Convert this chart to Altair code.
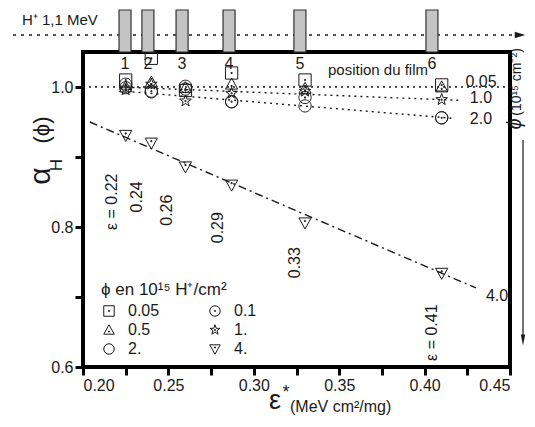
import altair as alt
import pandas as pd

FONT = "Liberation Sans"
INK = "#1a1a1a"

# ---------------- data ----------------
eps_star = [0.225, 0.24, 0.26, 0.287, 0.33, 0.41]
phi_levels = ["0.05", "0.1", "0.5", "1.", "2.", "4."]
alpha_005 = [1.010, 1.041, 0.995, 1.020, 1.010, 1.003]
alpha_01 = [1.004, 0.994, 0.997, 0.979, 0.985, 0.956]
alpha_05 = [1.000, 1.007, 0.999, 1.004, 0.998, 1.000]
alpha_1 = [0.996, 1.004, 0.980, 0.991, 0.994, 0.982]
alpha_2 = [0.999, 0.993, 1.001, 0.979, 0.973, 0.956]
alpha_4 = [0.931, 0.920, 0.886, 0.860, 0.806, 0.734]
series = [alpha_005, alpha_01, alpha_05, alpha_1, alpha_2, alpha_4]

# legend reading order (column by column, as in the reference)
legend_order = ["0.05", "0.5", "2.", "0.1", "1.", "4."]

film_labels = ["1", "2", "3", "4", "5", "6"]
film_x = [0.2246, 0.238, 0.258, 0.2855, 0.327, 0.4043]

fit_labels = ["0.05", "1.0", "2.0", "4.0"]
fit_x0 = [0.200, 0.222, 0.229, 0.204]
fit_x1 = [0.450, 0.420, 0.418, 0.430]
fit_y0 = [1.000, 1.000, 0.993, 0.950]
fit_y1 = [1.000, 0.981, 0.955, 0.713]
fit_label_x = [0.433, 0.433, 0.433, 0.4424]
fit_label_y = [1.007, 0.984, 0.954, 0.701]

eps_labels = ["ε = 0.22", "0.24", "0.26", "0.29", "0.33", "ε = 0.41"]
eps_label_x = [0.217, 0.2316, 0.2492, 0.279, 0.324, 0.4043]
eps_label_y = [0.836, 0.843, 0.824, 0.799, 0.749, 0.649]

x_ticks = [0.2, 0.225, 0.25, 0.275, 0.3, 0.325, 0.35, 0.375, 0.4, 0.425, 0.45]
y_ticks = [0.6, 0.7, 0.8, 0.9, 1.0]

beam_text = "H⁺ 1,1 MeV"
film_title = "position du film"
legend_title = "ϕ en 10¹⁵ H⁺/cm²"
right_phi = "ϕ"
right_unit = "(10¹⁵ cm⁻²)"
x_title_sym = "ε"
x_title_star = "*"
x_title_unit = "(MeV cm²/mg)"
y_title_sym = "α"
y_title_sub = "H"
y_title_arg = "(ϕ)"

# ---------------- tables ----------------
pts = pd.DataFrame(
    [
        {"eps": e, "alpha": v, "phi": lvl}
        for lvl, vals in zip(phi_levels, series)
        for e, v in zip(eps_star, vals)
    ]
)
fits = pd.DataFrame(
    [
        {"eps": x, "alpha": y, "fit": lab, "order": k}
        for lab, xa, xb, ya, yb in zip(fit_labels, fit_x0, fit_x1, fit_y0, fit_y1)
        for k, (x, y) in enumerate([(xa, ya), (xb, yb)])
    ]
)
fit_text = pd.DataFrame({"eps": fit_label_x, "alpha": fit_label_y, "t": fit_labels})
eps_text = pd.DataFrame({"eps": eps_label_x, "alpha": eps_label_y, "t": eps_labels})
films = pd.DataFrame({"eps": film_x, "t": film_labels})

# ---------------- scales / axes ----------------
x_scale = alt.Scale(domain=[0.2, 0.45], nice=False, zero=False)
y_scale = alt.Scale(domain=[0.6, 1.05], nice=False, zero=False)
x_axis = alt.Axis(
    values=x_ticks,
    labelExpr="indexof(['0.20','0.25','0.30','0.35','0.40','0.45'], format(datum.value,'.2f')) >= 0 ? format(datum.value,'.2f') : ''",
)
y_axis = alt.Axis(
    values=y_ticks,
    labelExpr="indexof(['0.6','0.8','1.0'], format(datum.value,'.1f')) >= 0 ? format(datum.value,'.1f') : ''",
)


def X(field="eps"):
    return alt.X(f"{field}:Q", scale=x_scale, axis=x_axis, title=None)


def Y(field="alpha"):
    return alt.Y(f"{field}:Q", scale=y_scale, axis=y_axis, title=None)


DOT = " M-0.09,-0.09H0.09V0.09H-0.09Z"
shape_of = {
    "0.05": "M-1,-1H1V1H-1Z" + DOT,
    "0.1": "M-1,0A1,1 0 1,0 1,0A1,1 0 1,0 -1,0Z" + DOT,
    "0.5": "M0,-1L1,0.8H-1Z M-0.09,0.21H0.09V0.39H-0.09Z",
    "1.": "M0,-1L0.235,-0.324L0.951,-0.309L0.38,0.124L0.588,0.809L0,0.4L-0.588,0.809L-0.38,0.124L-0.951,-0.309L-0.235,-0.324Z" + DOT,
    "2.": "M-1,0A1,1 0 1,0 1,0A1,1 0 1,0 -1,0Z",
    "4.": "M-1,-0.8H1L0,1Z M-0.09,-0.39H0.09V-0.21H-0.09Z",
}

# ---------------- layers ----------------
points = (
    alt.Chart(pts)
    .mark_point(filled=False, color=INK, strokeWidth=1, size=150, opacity=1)
    .encode(
        x=X(),
        y=Y(),
        shape=alt.Shape(
            "phi:N",
            scale=alt.Scale(domain=legend_order, range=[shape_of[k] for k in legend_order]),
            legend=alt.Legend(
                title=legend_title,
                orient="none",
                legendX=18,
                legendY=230,
                columns=2,
                gridAlign="all",
                columnPadding=47,
                rowPadding=3,
                labelOffset=11,
                symbolSize=110,
                symbolStrokeWidth=1,
                symbolStrokeColor=INK,
                symbolFillColor="transparent",
                labelFont=FONT,
                labelFontSize=16,
                labelColor=INK,
                titleFont=FONT,
                titleFontSize=17,
                titleFontWeight="normal",
                titleColor=INK,
                titlePadding=4,
            ),
        ),
    )
)

dotted = (
    alt.Chart(fits)
    .transform_filter("datum.fit != '4.0'")
    .mark_line(color=INK, strokeWidth=1.4, strokeDash=[2, 4])
    .encode(x=X(), y=Y(), detail="fit:N", order="order:Q")
)
dashdot = (
    alt.Chart(fits)
    .transform_filter("datum.fit == '4.0'")
    .mark_line(color=INK, strokeWidth=1.4, strokeDash=[8, 4, 2, 4])
    .encode(x=X(), y=Y(), detail="fit:N", order="order:Q")
)

fit_lbl = (
    alt.Chart(fit_text)
    .mark_text(font=FONT, fontSize=16, color=INK, align="center", baseline="middle")
    .encode(x=X(), y=Y(), text="t:N")
)
eps_lbl = (
    alt.Chart(eps_text)
    .mark_text(font=FONT, fontSize=16, color=INK, align="center", baseline="middle", angle=270)
    .encode(x=X(), y=Y(), text="t:N")
)

film_bars = (
    alt.Chart(films)
    .mark_point(
        shape="M-0.286,-1H0.286V1H-0.286Z",
        size=1764,
        filled=True,
        fill="#c4c4c4",
        stroke="#333333",
        strokeWidth=1.2,
        opacity=1,
    )
    .encode(x=X(), y=alt.value(-21))
)
film_num = (
    alt.Chart(films)
    .mark_text(font=FONT, fontSize=16, color=INK, align="center", baseline="middle")
    .encode(x=X(), y=alt.value(12), text="t:N")
)

beam_line = (
    alt.Chart(pd.DataFrame({"t": [beam_text]}))
    .mark_rule(color=INK, strokeWidth=1.5, strokeDash=[3, 5])
    .encode(x=alt.value(-78), x2=alt.value(432), y=alt.value(-17))
)
beam_head = (
    alt.Chart(pd.DataFrame({"t": [beam_text]}))
    .mark_point(shape="M-1,-0.6L1,0L-1,0.6Z", size=110, filled=True, color=INK, opacity=1)
    .encode(x=alt.value(437), y=alt.value(-17))
)

phi_arrow = (
    alt.Chart(pd.DataFrame({"t": [right_phi]}))
    .mark_rule(color=INK, strokeWidth=1.2)
    .encode(x=alt.value(440), y=alt.value(88), y2=alt.value(288))
)
phi_head = (
    alt.Chart(pd.DataFrame({"t": [right_phi]}))
    .mark_point(shape="M-0.4,-1L0.4,-1L0,1Z", size=120, filled=True, color=INK, opacity=1)
    .encode(x=alt.value(440), y=alt.value(288))
)


def ptext(label, x, y, size=16, angle=0, align="center", style="normal"):
    return (
        alt.Chart(pd.DataFrame({"t": [label]}))
        .mark_text(
            font=FONT,
            fontSize=size,
            angle=angle,
            align=align,
            baseline="middle",
            fontStyle=style,
            color=INK,
        )
        .encode(x=alt.value(x), y=alt.value(y), text="t:N")
    )


annotations = [
    ptext(beam_text, -61, -32, size=15, align="left"),
    ptext(film_title, 295, 18, size=15),
    ptext(right_phi, 432, 72, size=20, angle=270, style="italic"),
    ptext(right_unit, 434, 30, size=14, angle=270),
    ptext(x_title_sym, 192, 349, size=27),
    ptext(x_title_star, 203, 341, size=18),
    ptext(x_title_unit, 207, 355, size=16, align="left"),
    ptext(y_title_sym, -42, 124, size=30, angle=270),
    ptext(y_title_sub, -26, 113, size=17, angle=270),
    ptext(y_title_arg, -41, 78, size=22, angle=270),
]

chart = (
    alt.layer(
        beam_line,
        beam_head,
        dotted,
        dashdot,
        points,
        fit_lbl,
        eps_lbl,
        film_bars,
        film_num,
        phi_arrow,
        phi_head,
        *annotations,
    )
    .properties(
        width=427,
        height=315,
        padding={"left": 75, "top": 44, "right": 17, "bottom": 52},
        autosize=alt.AutoSizeParams(type="none"),
    )
    .configure_view(stroke="black", strokeWidth=4)
    .configure_axis(
        domain=False,
        grid=False,
        ticks=True,
        tickColor="black",
        tickWidth=3,
        tickSize=8,
        labelFont=FONT,
        labelFontSize=16,
        labelColor=INK,
        labelPadding=2,
    )
)

chart.save("out.html", embed_options={"renderer": "svg", "actions": False})
